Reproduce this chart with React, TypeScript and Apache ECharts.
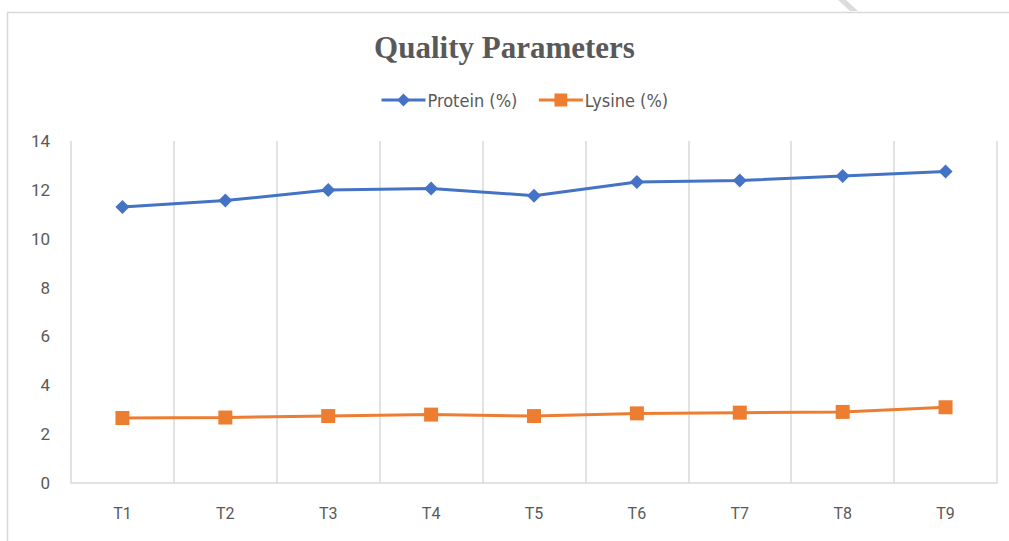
import React, { useEffect, useRef } from "react";
import * as echarts from "echarts";

const categories = ["T1", "T2", "T3", "T4", "T5", "T6", "T7", "T8", "T9"];
const proteinValues = [11.3, 11.56, 11.99, 12.06, 11.76, 12.32, 12.38, 12.57, 12.75];
const lysineValues = [2.66, 2.68, 2.74, 2.8, 2.74, 2.85, 2.88, 2.91, 3.1];
const yTicks = { min: 0, max: 14, interval: 2 };
const titleText = "Quality Parameters";
const seriesNames = ["Protein (%)", "Lysine (%)"];

export default function App() {
  const ref = useRef<HTMLDivElement>(null);
  useEffect(() => {
    if (!ref.current) return;
    const chart = echarts.init(ref.current, undefined, { renderer: "svg" });
    const narrow = "'Liberation Sans Narrow', 'DejaVu Sans Condensed', 'Noto Sans', sans-serif";
    chart.setOption({
      animation: false,
      backgroundColor: "#ffffff",
      title: {
        text: titleText,
        left: "center",
        top: 27,
        textStyle: {
          fontFamily: "'Liberation Serif', 'Times New Roman', serif",
          fontWeight: "bold",
          fontSize: 31,
          color: "#595959",
        },
      },
      legend: {
        top: 86,
        left: 375,
        itemWidth: 44,
        itemHeight: 16,
        itemGap: 20,
        lineStyle: { width: 3 },
        textStyle: { fontFamily: narrow, fontSize: 18, color: "#595959", padding: [0, 0, 0, -3] },
        data: seriesNames,
      },
      graphic: [
        {
          type: "rect",
          shape: { x: 7.5, y: 12.5, width: 1100, height: 600 },
          style: { fill: "none", stroke: "#d9d9d9", lineWidth: 1.5 },
          silent: true,
        },
        {
          type: "polygon",
          shape: { points: [[838, 0], [846, 0], [858, 11], [850, 11]] },
          style: { fill: "#dcdcdc" },
          silent: true,
        },
      ],
      grid: { left: 71, right: 12, top: 141, bottom: 58, containLabel: false },
      xAxis: {
        type: "category",
        data: categories,
        boundaryGap: true,
        axisLine: { show: true, lineStyle: { color: "#d9d9d9", width: 1.5 } },
        axisTick: { show: false },
        axisLabel: { color: "#595959", fontSize: 16, fontFamily: "Roboto, sans-serif", margin: 22 },
        splitLine: { show: true, lineStyle: { color: "#d9d9d9", width: 1.5 } },
      },
      yAxis: {
        type: "value",
        min: yTicks.min,
        max: yTicks.max,
        interval: yTicks.interval,
        axisLine: { show: false },
        axisTick: { show: false },
        splitLine: { show: false },
        axisLabel: { color: "#595959", fontSize: 17, fontFamily: "Roboto, sans-serif", margin: 21 },
      },
      series: [
        {
          name: seriesNames[0],
          type: "line",
          data: proteinValues,
          symbol: "diamond",
          symbolSize: 14,
          lineStyle: { color: "#4472C4", width: 3 },
          itemStyle: { color: "#4472C4" },
        },
        {
          name: seriesNames[1],
          type: "line",
          data: lysineValues,
          symbol: "rect",
          symbolSize: 14,
          lineStyle: { color: "#ED7D31", width: 3 },
          itemStyle: { color: "#ED7D31" },
        },
      ],
    });
    return () => chart.dispose();
  }, []);
  return (
    <div
      ref={ref}
      style={{ position: "fixed", left: 0, top: 0, width: 1009, height: 541 }}
    />
  );
}
